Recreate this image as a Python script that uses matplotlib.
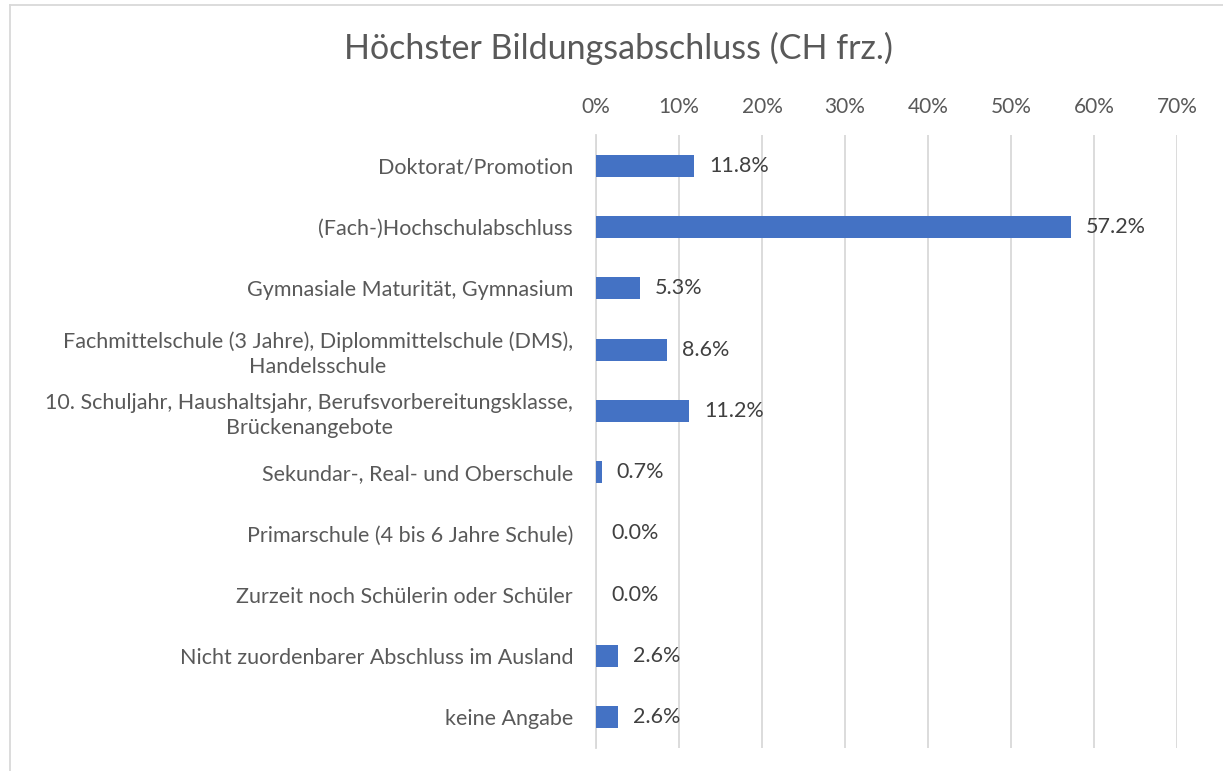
import matplotlib.pyplot as plt
import numpy as np

categories = [
    'Doktorat/Promotion',
    '(Fach-)Hochschulabschluss',
    'Gymnasiale Maturität, Gymnasium',
    'Fachmittelschule (3 Jahre), Diplommittelschule (DMS),\nHandelsschule',
    '10. Schuljahr, Haushaltsjahr, Berufsvorbereitungsklasse,\nBrückenangebote',
    'Sekundar-, Real- und Oberschule',
    'Primarschule (4 bis 6 Jahre Schule)',
    'Zurzeit noch Schülerin oder Schüler',
    'Nicht zuordenbarer Abschluss im Ausland',
    'keine Angabe',
]
values = [11.8, 57.2, 5.3, 8.6, 11.2, 0.7, 0.0, 0.0, 2.6, 2.6]
ticks = [0, 10, 20, 30, 40, 50, 60, 70]

plt.rcParams['font.family'] = ['Lato', 'DejaVu Sans']
txt = '#595959'
grid = '#d9d9d9'
blue = '#4472c4'

fig = plt.figure(figsize=(12.23, 7.71), dpi=100)
W, H = 1223, 771
ax = fig.add_axes([596 / W, 1 - 748 / H, (1177 - 596) / W, (748 - 135) / H])

y = np.arange(len(categories))
ax.barh(y, values, height=0.36, color=blue, zorder=3)
for yi, v in zip(y, values):
    ax.text(v + 1.8, yi, f'{v:.1f}%', va='center', ha='left', fontsize=15.5, color='#404040')

ax.set_xlim(0, 70)
ax.set_ylim(len(categories) - 0.5, -0.5)
ax.set_xticks(ticks)
ax.set_xticklabels([f'{t}%' for t in ticks], fontsize=15, color=txt)
ax.xaxis.tick_top()
ax.tick_params(axis='x', length=0, pad=13)
ax.set_yticks(y)
ax.set_yticklabels(categories, fontsize=15.5, color=txt, multialignment='center', linespacing=1.35)
ax.tick_params(axis='y', length=0, pad=16.5)
ax.grid(axis='x', color=grid, linewidth=1.3, zorder=0)
for s in ['top', 'right', 'bottom']:
    ax.spines[s].set_visible(False)
ax.spines['left'].set_color(grid)
ax.spines['left'].set_linewidth(1.3)

fig.text(618 / W, 1 - 48 / H, 'Höchster Bildungsabschluss (CH frz.)', ha='center', va='center',
         fontsize=24.5, color=txt)

# chart border
fig.add_artist(plt.Line2D([9.5 / W, 9.5 / W], [0, 1 - 4.5 / H], transform=fig.transFigure, color=grid, lw=1.3))
fig.add_artist(plt.Line2D([9.5 / W, 1], [1 - 4.5 / H, 1 - 4.5 / H], transform=fig.transFigure, color=grid, lw=1.3))

fig.savefig('out.png', dpi=100)
